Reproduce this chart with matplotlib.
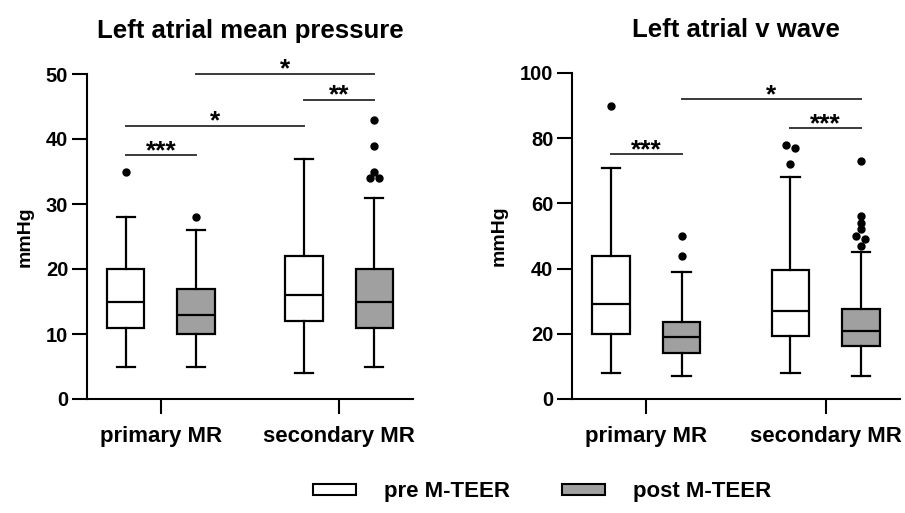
import matplotlib
matplotlib.use('Agg')
import matplotlib.pyplot as plt
from matplotlib.patches import Patch
import numpy as np

plt.rcParams['font.family'] = ['Liberation Sans', 'DejaVu Sans']
plt.rcParams['font.weight'] = 'bold'

groups = ["primary MR", "secondary MR"]
legend_labels = ["pre M-TEER", "post M-TEER"]

# box stats per group: [whislo, q1, median, q3, whishi]
lap_pre = [[5, 11, 15, 20, 28], [4, 12, 16, 22, 37]]
lap_post = [[5, 10, 13, 17, 26], [5, 11, 15, 20, 31]]
lap_pre_out = [[35], []]
lap_post_out = [[28], [34, 34, 35, 39, 43]]

vw_pre = [[8, 20, 29, 44, 71], [8, 19.3, 27, 39.7, 68]]
vw_post = [[7, 14.2, 19, 23.6, 39], [7, 16.4, 21, 27.7, 45]]
vw_pre_out = [[90], [72, 77, 78]]
vw_post_out = [[44, 50], [47, 49, 50, 52, 54, 56, 73]]

# significance brackets: (box a, box b, height, stars); boxes 0..3 = prim pre, prim post, sec pre, sec post
lap_sig = [(0, 1, 37.5, "***"), (0, 2, 42, "*"), (2, 3, 46, "**"), (1, 3, 50, "*")]
vw_sig = [(0, 1, 75, "***"), (2, 3, 83, "***"), (1, 3, 92, "*")]

WHITE = "white"
GRAY = "#a0a0a0"
OFF = 0.197
BW = 0.208
LW = 1.6


def to_stats(rows):
    return [dict(whislo=r[0], q1=r[1], med=r[2], q3=r[3], whishi=r[4], fliers=[]) for r in rows]


def spread(vals, thresh, step):
    # little swarm: close values get put side by side, higher one on the left
    vals = sorted(vals, reverse=True)
    rows = []
    for v in vals:
        if rows and rows[-1][-1] - v < thresh:
            rows[-1].append(v)
        else:
            rows.append([v])
    xs, ys = [], []
    for row in rows:
        n = len(row)
        for i, v in enumerate(row):
            xs.append((i - (n - 1) / 2) * step)
            ys.append(v)
    return np.array(xs), np.array(ys)


def panel(ax, pre, post, pre_out, post_out, sig, ymax, ystep, title):
    centers = np.arange(1, len(groups) + 1)
    xpos = []
    for c, (rows, outs, col, sh) in enumerate([(pre, pre_out, WHITE, -OFF), (post, post_out, GRAY, OFF)]):
        ax.bxp(to_stats(rows), positions=centers + sh, widths=BW, patch_artist=True,
               showfliers=False,
               boxprops=dict(facecolor=col, edgecolor="black", linewidth=LW),
               medianprops=dict(color="black", linewidth=LW),
               whiskerprops=dict(color="black", linewidth=LW),
               capprops=dict(color="black", linewidth=LW))
        for g, o in enumerate(outs):
            if o:
                dx, yy = spread(o, ymax * 0.015, 0.05)
                ax.plot(centers[g] + sh + dx, yy, "o", color="black", ms=5, clip_on=False)
    for g in centers:
        xpos += [g - OFF, g + OFF]
    xpos = sorted(xpos)

    for a, b, y, lab in sig:
        ax.plot([xpos[a], xpos[b]], [y, y], color="#3a3a3a", lw=1.4, clip_on=False)
        ax.annotate(lab, ((xpos[a] + xpos[b]) / 2, y), xytext=(0, -2), textcoords="offset points",
                    ha="center", va="baseline", fontsize=19, fontweight="bold")

    ax.set_xlim(0.585, 2.415)
    ax.set_ylim(0, ymax)
    ax.set_yticks(np.arange(0, ymax + 1, ystep))
    ax.set_xticks(centers)
    ax.set_xticklabels(groups, fontsize=16, fontweight="bold")
    ax.tick_params(axis="y", length=10.5, width=1.5, labelsize=14.5, pad=3)
    ax.tick_params(axis="x", length=10.5, width=1.5, pad=9)
    for s in ["top", "right"]:
        ax.spines[s].set_visible(False)
    for s in ["left", "bottom"]:
        ax.spines[s].set_linewidth(1.5)
    ax.set_ylabel("mmHg", fontsize=14, fontweight="bold", labelpad=9)
    ax.set_title(title, fontsize=18.5, fontweight="bold", pad=26)


fig = plt.figure(figsize=(9.05, 5.13), dpi=100)
ax1 = fig.add_axes([87 / 905, 114 / 513, 326 / 905, 325 / 513])
ax2 = fig.add_axes([572 / 905, 114 / 513, 328 / 905, 326 / 513])

panel(ax1, lap_pre, lap_post, lap_pre_out, lap_post_out, lap_sig, 50, 10, "Left atrial mean pressure")
panel(ax2, vw_pre, vw_post, vw_pre_out, vw_post_out, vw_sig, 100, 20, "Left atrial v wave")

handles = [Patch(facecolor=WHITE, edgecolor="black", linewidth=1.5),
           Patch(facecolor=GRAY, edgecolor="black", linewidth=1.5)]
fig.legend(handles, legend_labels, loc="center", bbox_to_anchor=(0.599, 0.041), ncol=2,
           frameon=False, prop=dict(size=16, weight="bold"),
           handlelength=1.94, handleheight=0.36, handletextpad=1.26, columnspacing=2.34)

fig.savefig("out.png", dpi=100)
